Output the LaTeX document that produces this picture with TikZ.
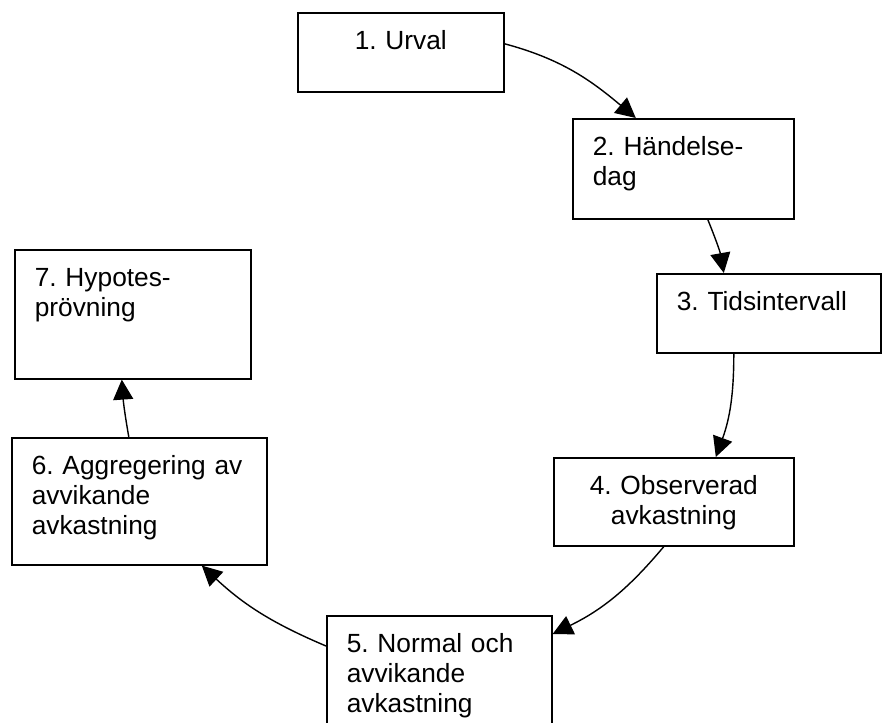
\documentclass[tikz,border=0pt]{standalone}
\usepackage{fontspec}
\setmainfont{Liberation Sans}
\usetikzlibrary{arrows.meta}
\frenchspacing
\tikzset{%
  >={Triangle[width=20pt,length=20pt]},
  % Specifications for style of nodes:
       base/.style = {rectangle, draw=black, line width=1.6pt,
                      anchor=north west, inner xsep=20pt, inner ysep=18pt,
                      text height=19pt,
                      font=\fontsize{26.3pt}{30pt}\selectfont},
    leftbox/.style = {base, align=left},
  centerbox/.style = {base, align=center},
       link/.style = {->, line width=1.4pt},
}
\begin{document}
\begin{tikzpicture}[x=1pt, y=1pt]
  \useasboundingbox (0,0) rectangle (882,-722);
  % Specification of nodes (position, etc.)
  \node (urvalBlock)         [centerbox, text width=166pt, text depth=24pt]
        at (297,-12)  {1. Urval};
  \node (handelsedagBlock)   [leftbox, text width=181pt, text depth=45pt]
        at (572,-118) {2. Händelse-\\dag};
  \node (tidsintervallBlock) [leftbox, text width=184pt, text depth=24pt]
        at (656,-273) {3. Tidsintervall};
  \node (observeradBlock)    [centerbox, text width=200pt, text depth=33pt]
        at (553,-457) {4. Observerad\\avkastning};
  \node (normalBlock)        [leftbox, text width=185pt, text depth=75pt]
        at (326,-615) {5. Normal och\\avvikande\\avkastning};
  \node (aggregeringBlock)   [leftbox, text width=215pt, text depth=72pt]
        at (11,-437)  {6. Aggregering av\\avvikande\\avkastning};
  \node (hypotesBlock)       [leftbox, text width=196pt, text depth=74pt]
        at (14,-249)  {7. Hypotes-\\prövning};
  % Specification of lines between nodes specified above
  \draw[link] ([yshift=8.5pt]urvalBlock.east) to[out=-15, in=140]
              ([xshift=-47.5pt]handelsedagBlock.north);
  \draw[link] ([xshift=24.5pt]handelsedagBlock.south) to[out=-68, in=100]
              ([xshift=-45pt]tidsintervallBlock.north);
  \draw[link] ([xshift=-35pt]tidsintervallBlock.south) to[out=-90, in=70]
              ([xshift=42pt]observeradBlock.north);
  \draw[link] ([xshift=-10pt]observeradBlock.south) to[out=230, in=26]
              ([yshift=-19pt]normalBlock.north east);
  \draw[link] ([yshift=-31pt]normalBlock.north west) to[out=157, in=-43]
              ([xshift=62.5pt]aggregeringBlock.south);
  \draw[link] ([xshift=-10.5pt]aggregeringBlock.north) to[out=100, in=-86]
              ([xshift=-11pt]hypotesBlock.south);
\end{tikzpicture}
\end{document}
